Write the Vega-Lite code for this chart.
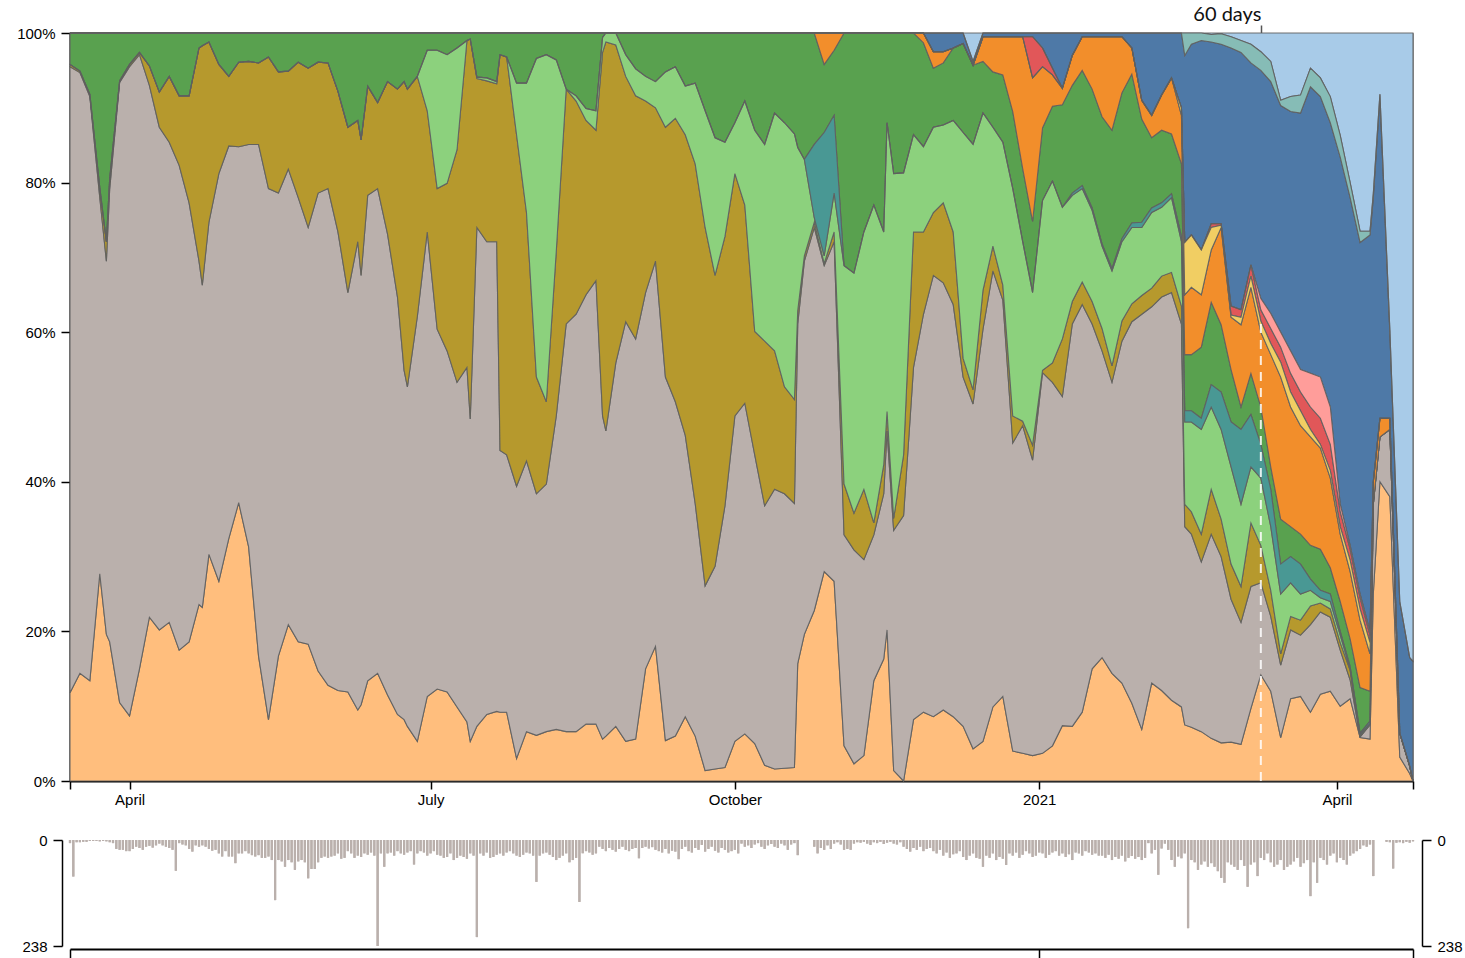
{
"$schema":"https://vega.github.io/schema/vega-lite/v6.json",
"padding":{"left":16,"top":3,"right":0,"bottom":0},
"background":"white",
"bounds":"flush",
"spacing":59,
"config":{"view":{"stroke":null},"axis":{"labelFont":"Liberation Sans","labelFontSize":15,"labelColor":"#000","domainColor":"#000","tickColor":"#000","grid":false}},
"datasets":{
"shares":[
{"t":"2020-03-14","k":"a","v":11.8},{"t":"2020-03-14","k":"b","v":83.7},{"t":"2020-03-14","k":"c","v":0.3},{"t":"2020-03-14","k":"f","v":4.2},
{"t":"2020-03-17","k":"a","v":14.4},{"t":"2020-03-17","k":"b","v":80.3},{"t":"2020-03-17","k":"c","v":0.2},{"t":"2020-03-17","k":"f","v":5.1},
{"t":"2020-03-20","k":"a","v":13.4},{"t":"2020-03-20","k":"b","v":78.1},{"t":"2020-03-20","k":"c","v":0.3},{"t":"2020-03-20","k":"f","v":8.2},
{"t":"2020-03-23","k":"a","v":27.7},{"t":"2020-03-23","k":"b","v":50.3},{"t":"2020-03-23","k":"c","v":1.3},{"t":"2020-03-23","k":"f","v":20.7},
{"t":"2020-03-25","k":"a","v":19.6},{"t":"2020-03-25","k":"b","v":49.9},{"t":"2020-03-25","k":"c","v":2.6},{"t":"2020-03-25","k":"f","v":27.9},
{"t":"2020-03-26","k":"a","v":18.6},{"t":"2020-03-26","k":"b","v":60.6},{"t":"2020-03-26","k":"c","v":1.3},{"t":"2020-03-26","k":"f","v":19.5},
{"t":"2020-03-29","k":"a","v":10.5},{"t":"2020-03-29","k":"b","v":82.9},{"t":"2020-03-29","k":"c","v":0.2},{"t":"2020-03-29","k":"f","v":6.4},
{"t":"2020-04-01","k":"a","v":8.7},{"t":"2020-04-01","k":"b","v":86.8},{"t":"2020-04-01","k":"c","v":0.3},{"t":"2020-04-01","k":"f","v":4.2},
{"t":"2020-04-04","k":"a","v":15},{"t":"2020-04-04","k":"b","v":82.1},{"t":"2020-04-04","k":"c","v":0.3},{"t":"2020-04-04","k":"f","v":2.6},
{"t":"2020-04-07","k":"a","v":21.9},{"t":"2020-04-07","k":"b","v":71.1},{"t":"2020-04-07","k":"c","v":2.6},{"t":"2020-04-07","k":"f","v":4.4},
{"t":"2020-04-10","k":"a","v":20.2},{"t":"2020-04-10","k":"b","v":67.2},{"t":"2020-04-10","k":"c","v":4.7},{"t":"2020-04-10","k":"f","v":7.9},
{"t":"2020-04-13","k":"a","v":21.2},{"t":"2020-04-13","k":"b","v":64.2},{"t":"2020-04-13","k":"c","v":8.8},{"t":"2020-04-13","k":"f","v":5.8},
{"t":"2020-04-16","k":"a","v":17.5},{"t":"2020-04-16","k":"b","v":64.8},{"t":"2020-04-16","k":"c","v":9.3},{"t":"2020-04-16","k":"f","v":8.4},
{"t":"2020-04-19","k":"a","v":18.6},{"t":"2020-04-19","k":"b","v":58.7},{"t":"2020-04-19","k":"c","v":14.3},{"t":"2020-04-19","k":"f","v":8.4},
{"t":"2020-04-22","k":"a","v":23.6},{"t":"2020-04-22","k":"b","v":45.9},{"t":"2020-04-22","k":"c","v":28.5},{"t":"2020-04-22","k":"f","v":2},
{"t":"2020-04-23","k":"a","v":23.2},{"t":"2020-04-23","k":"b","v":43.1},{"t":"2020-04-23","k":"c","v":32},{"t":"2020-04-23","k":"f","v":1.7},
{"t":"2020-04-25","k":"a","v":30.3},{"t":"2020-04-25","k":"b","v":44.4},{"t":"2020-04-25","k":"c","v":24.1},{"t":"2020-04-25","k":"f","v":1.2},
{"t":"2020-04-28","k":"a","v":26.7},{"t":"2020-04-28","k":"b","v":54.5},{"t":"2020-04-28","k":"c","v":14.6},{"t":"2020-04-28","k":"f","v":4.2},
{"t":"2020-05-01","k":"a","v":32.4},{"t":"2020-05-01","k":"b","v":52.5},{"t":"2020-05-01","k":"c","v":9.3},{"t":"2020-05-01","k":"f","v":5.8},
{"t":"2020-05-04","k":"a","v":37.2},{"t":"2020-05-04","k":"b","v":47.6},{"t":"2020-05-04","k":"c","v":11.3},{"t":"2020-05-04","k":"f","v":3.9},
{"t":"2020-05-07","k":"a","v":31.3},{"t":"2020-05-07","k":"b","v":53.8},{"t":"2020-05-07","k":"c","v":11.1},{"t":"2020-05-07","k":"f","v":3.8},
{"t":"2020-05-10","k":"a","v":16.7},{"t":"2020-05-10","k":"b","v":68.4},{"t":"2020-05-10","k":"c","v":10.9},{"t":"2020-05-10","k":"f","v":4},
{"t":"2020-05-13","k":"a","v":8.2},{"t":"2020-05-13","k":"b","v":71},{"t":"2020-05-13","k":"c","v":17.6},{"t":"2020-05-13","k":"f","v":3.2},
{"t":"2020-05-16","k":"a","v":16.7},{"t":"2020-05-16","k":"b","v":61.9},{"t":"2020-05-16","k":"c","v":16.2},{"t":"2020-05-16","k":"f","v":5.2},
{"t":"2020-05-19","k":"a","v":20.9},{"t":"2020-05-19","k":"b","v":60.9},{"t":"2020-05-19","k":"c","v":13.1},{"t":"2020-05-19","k":"f","v":5.1},
{"t":"2020-05-22","k":"a","v":18.6},{"t":"2020-05-22","k":"b","v":59.4},{"t":"2020-05-22","k":"c","v":18.1},{"t":"2020-05-22","k":"f","v":3.9},
{"t":"2020-05-25","k":"a","v":18.3},{"t":"2020-05-25","k":"b","v":55.7},{"t":"2020-05-25","k":"c","v":21.3},{"t":"2020-05-25","k":"f","v":4.7},
{"t":"2020-05-28","k":"a","v":14.7},{"t":"2020-05-28","k":"b","v":63.9},{"t":"2020-05-28","k":"c","v":17.5},{"t":"2020-05-28","k":"f","v":3.9},
{"t":"2020-05-31","k":"a","v":12.8},{"t":"2020-05-31","k":"b","v":66.4},{"t":"2020-05-31","k":"c","v":16.8},{"t":"2020-05-31","k":"f","v":4},
{"t":"2020-06-03","k":"a","v":12.1},{"t":"2020-06-03","k":"b","v":61.3},{"t":"2020-06-03","k":"c","v":18.8},{"t":"2020-06-03","k":"f","v":7.8},
{"t":"2020-06-06","k":"a","v":11.9},{"t":"2020-06-06","k":"b","v":53.4},{"t":"2020-06-06","k":"c","v":22.1},{"t":"2020-06-06","k":"f","v":12.6},
{"t":"2020-06-09","k":"a","v":9.5},{"t":"2020-06-09","k":"b","v":62.6},{"t":"2020-06-09","k":"c","v":16.2},{"t":"2020-06-09","k":"f","v":11.7},
{"t":"2020-06-10","k":"a","v":10.2},{"t":"2020-06-10","k":"b","v":57.4},{"t":"2020-06-10","k":"c","v":18.1},{"t":"2020-06-10","k":"f","v":14.3},
{"t":"2020-06-12","k":"a","v":13.4},{"t":"2020-06-12","k":"b","v":64.9},{"t":"2020-06-12","k":"c","v":14.6},{"t":"2020-06-12","k":"f","v":7.1},
{"t":"2020-06-15","k":"a","v":14.4},{"t":"2020-06-15","k":"b","v":64.8},{"t":"2020-06-15","k":"c","v":11.5},{"t":"2020-06-15","k":"f","v":9.3},
{"t":"2020-06-18","k":"a","v":11.5},{"t":"2020-06-18","k":"b","v":61.6},{"t":"2020-06-18","k":"c","v":20.4},{"t":"2020-06-18","k":"f","v":6.5},
{"t":"2020-06-21","k":"a","v":8.9},{"t":"2020-06-21","k":"b","v":55.8},{"t":"2020-06-21","k":"c","v":27.8},{"t":"2020-06-21","k":"f","v":7.5},
{"t":"2020-06-23","k":"a","v":8.2},{"t":"2020-06-23","k":"b","v":46.7},{"t":"2020-06-23","k":"c","v":38.6},{"t":"2020-06-23","k":"f","v":6.5},
{"t":"2020-06-24","k":"a","v":7.3},{"t":"2020-06-24","k":"b","v":45.4},{"t":"2020-06-24","k":"c","v":39.8},{"t":"2020-06-24","k":"f","v":7.5},
{"t":"2020-06-27","k":"a","v":5.3},{"t":"2020-06-27","k":"b","v":56.8},{"t":"2020-06-27","k":"c","v":32.1},{"t":"2020-06-27","k":"f","v":5.8},
{"t":"2020-06-30","k":"a","v":11.3},{"t":"2020-06-30","k":"b","v":62.1},{"t":"2020-06-30","k":"c","v":16.2},{"t":"2020-06-30","k":"d","v":8.1},{"t":"2020-06-30","k":"f","v":2.3},
{"t":"2020-07-03","k":"a","v":12.3},{"t":"2020-07-03","k":"b","v":48.1},{"t":"2020-07-03","k":"c","v":18.8},{"t":"2020-07-03","k":"d","v":18.5},{"t":"2020-07-03","k":"f","v":2.3},
{"t":"2020-07-06","k":"a","v":11.9},{"t":"2020-07-06","k":"b","v":45.6},{"t":"2020-07-06","k":"c","v":22.4},{"t":"2020-07-06","k":"d","v":17.2},{"t":"2020-07-06","k":"f","v":2.9},
{"t":"2020-07-09","k":"a","v":9.9},{"t":"2020-07-09","k":"b","v":43.4},{"t":"2020-07-09","k":"c","v":31.1},{"t":"2020-07-09","k":"d","v":13.6},{"t":"2020-07-09","k":"f","v":2},
{"t":"2020-07-12","k":"a","v":7.9},{"t":"2020-07-12","k":"b","v":47.4},{"t":"2020-07-12","k":"c","v":43.7},{"t":"2020-07-12","k":"f","v":1},
{"t":"2020-07-13","k":"a","v":5.3},{"t":"2020-07-13","k":"b","v":43.1},{"t":"2020-07-13","k":"c","v":50.8},{"t":"2020-07-13","k":"f","v":0.8},
{"t":"2020-07-15","k":"a","v":7.3},{"t":"2020-07-15","k":"b","v":66.7},{"t":"2020-07-15","k":"c","v":19.9},{"t":"2020-07-15","k":"d","v":0.2},{"t":"2020-07-15","k":"f","v":5.9},
{"t":"2020-07-18","k":"a","v":8.9},{"t":"2020-07-18","k":"b","v":63.2},{"t":"2020-07-18","k":"c","v":21.5},{"t":"2020-07-18","k":"d","v":0.4},{"t":"2020-07-18","k":"f","v":6},
{"t":"2020-07-21","k":"a","v":9.3},{"t":"2020-07-21","k":"b","v":62.8},{"t":"2020-07-21","k":"c","v":21.1},{"t":"2020-07-21","k":"d","v":0.3},{"t":"2020-07-21","k":"f","v":6.5},
{"t":"2020-07-22","k":"a","v":9.2},{"t":"2020-07-22","k":"b","v":35},{"t":"2020-07-22","k":"c","v":52.9},{"t":"2020-07-22","k":"f","v":2.9},
{"t":"2020-07-24","k":"a","v":9.2},{"t":"2020-07-24","k":"b","v":34.4},{"t":"2020-07-24","k":"c","v":53.2},{"t":"2020-07-24","k":"f","v":3.2},
{"t":"2020-07-27","k":"a","v":3},{"t":"2020-07-27","k":"b","v":36.4},{"t":"2020-07-27","k":"c","v":47},{"t":"2020-07-27","k":"d","v":6.9},{"t":"2020-07-27","k":"f","v":6.7},
{"t":"2020-07-30","k":"a","v":6.6},{"t":"2020-07-30","k":"b","v":36.2},{"t":"2020-07-30","k":"c","v":33.2},{"t":"2020-07-30","k":"d","v":17.3},{"t":"2020-07-30","k":"f","v":6.7},
{"t":"2020-08-02","k":"a","v":6.1},{"t":"2020-08-02","k":"b","v":32.3},{"t":"2020-08-02","k":"c","v":15.6},{"t":"2020-08-02","k":"d","v":42.6},{"t":"2020-08-02","k":"f","v":3.4},
{"t":"2020-08-05","k":"a","v":6.6},{"t":"2020-08-05","k":"b","v":33.1},{"t":"2020-08-05","k":"c","v":11},{"t":"2020-08-05","k":"d","v":46.4},{"t":"2020-08-05","k":"f","v":2.9},
{"t":"2020-08-08","k":"a","v":6.9},{"t":"2020-08-08","k":"b","v":41.9},{"t":"2020-08-08","k":"c","v":22},{"t":"2020-08-08","k":"d","v":25.6},{"t":"2020-08-08","k":"f","v":3.6},
{"t":"2020-08-11","k":"a","v":6.6},{"t":"2020-08-11","k":"b","v":54.5},{"t":"2020-08-11","k":"c","v":31.4},{"t":"2020-08-11","k":"f","v":7.5},
{"t":"2020-08-14","k":"a","v":6.6},{"t":"2020-08-14","k":"b","v":55.8},{"t":"2020-08-14","k":"c","v":28.5},{"t":"2020-08-14","k":"d","v":0.7},{"t":"2020-08-14","k":"f","v":8.4},
{"t":"2020-08-17","k":"a","v":7.6},{"t":"2020-08-17","k":"b","v":57.4},{"t":"2020-08-17","k":"c","v":23.3},{"t":"2020-08-17","k":"d","v":1.6},{"t":"2020-08-17","k":"f","v":10.1},
{"t":"2020-08-20","k":"a","v":7.6},{"t":"2020-08-20","k":"b","v":59.3},{"t":"2020-08-20","k":"c","v":20.1},{"t":"2020-08-20","k":"d","v":2.6},{"t":"2020-08-20","k":"f","v":10.4},
{"t":"2020-08-22","k":"a","v":5.6},{"t":"2020-08-22","k":"b","v":43.2},{"t":"2020-08-22","k":"c","v":48.6},{"t":"2020-08-22","k":"d","v":2},{"t":"2020-08-22","k":"f","v":0.6},
{"t":"2020-08-23","k":"a","v":6},{"t":"2020-08-23","k":"b","v":40.8},{"t":"2020-08-23","k":"c","v":52},{"t":"2020-08-23","k":"d","v":1.2},
{"t":"2020-08-26","k":"a","v":7.3},{"t":"2020-08-26","k":"b","v":48.6},{"t":"2020-08-26","k":"c","v":42.5},{"t":"2020-08-26","k":"d","v":1.6},
{"t":"2020-08-29","k":"a","v":5.3},{"t":"2020-08-29","k":"b","v":56.1},{"t":"2020-08-29","k":"c","v":32.8},{"t":"2020-08-29","k":"d","v":2.9},{"t":"2020-08-29","k":"f","v":2.9},
{"t":"2020-09-01","k":"a","v":5.6},{"t":"2020-09-01","k":"b","v":53.5},{"t":"2020-09-01","k":"c","v":32.5},{"t":"2020-09-01","k":"d","v":3.6},{"t":"2020-09-01","k":"f","v":4.8},
{"t":"2020-09-04","k":"a","v":15},{"t":"2020-09-04","k":"b","v":50.3},{"t":"2020-09-04","k":"c","v":25.6},{"t":"2020-09-04","k":"d","v":3.3},{"t":"2020-09-04","k":"f","v":5.8},
{"t":"2020-09-07","k":"a","v":18},{"t":"2020-09-07","k":"b","v":51.5},{"t":"2020-09-07","k":"c","v":20.5},{"t":"2020-09-07","k":"d","v":3.5},{"t":"2020-09-07","k":"f","v":6.5},
{"t":"2020-09-10","k":"a","v":5.4},{"t":"2020-09-10","k":"b","v":48.6},{"t":"2020-09-10","k":"c","v":33.4},{"t":"2020-09-10","k":"d","v":7.4},{"t":"2020-09-10","k":"f","v":5.2},
{"t":"2020-09-13","k":"a","v":6},{"t":"2020-09-13","k":"b","v":44.7},{"t":"2020-09-13","k":"c","v":37.9},{"t":"2020-09-13","k":"d","v":6.9},{"t":"2020-09-13","k":"f","v":4.5},
{"t":"2020-09-16","k":"a","v":8.6},{"t":"2020-09-16","k":"b","v":37.6},{"t":"2020-09-16","k":"c","v":40.2},{"t":"2020-09-16","k":"d","v":6.5},{"t":"2020-09-16","k":"f","v":7.1},
{"t":"2020-09-19","k":"a","v":6},{"t":"2020-09-19","k":"b","v":31.1},{"t":"2020-09-19","k":"c","v":45.4},{"t":"2020-09-19","k":"d","v":10.8},{"t":"2020-09-19","k":"f","v":6.7},
{"t":"2020-09-22","k":"a","v":1.4},{"t":"2020-09-22","k":"b","v":24.7},{"t":"2020-09-22","k":"c","v":47.9},{"t":"2020-09-22","k":"d","v":15.6},{"t":"2020-09-22","k":"f","v":10.4},
{"t":"2020-09-25","k":"a","v":1.6},{"t":"2020-09-25","k":"b","v":27.1},{"t":"2020-09-25","k":"c","v":38.9},{"t":"2020-09-25","k":"d","v":18.4},{"t":"2020-09-25","k":"f","v":14},
{"t":"2020-09-28","k":"a","v":1.8},{"t":"2020-09-28","k":"b","v":35},{"t":"2020-09-28","k":"c","v":36},{"t":"2020-09-28","k":"d","v":12.6},{"t":"2020-09-28","k":"f","v":14.6},
{"t":"2020-10-01","k":"a","v":5.3},{"t":"2020-10-01","k":"b","v":43.5},{"t":"2020-10-01","k":"c","v":32.4},{"t":"2020-10-01","k":"d","v":6.8},{"t":"2020-10-01","k":"f","v":12},
{"t":"2020-10-04","k":"a","v":6.3},{"t":"2020-10-04","k":"b","v":44.2},{"t":"2020-10-04","k":"c","v":26.5},{"t":"2020-10-04","k":"d","v":13.9},{"t":"2020-10-04","k":"f","v":9.1},
{"t":"2020-10-07","k":"a","v":5},{"t":"2020-10-07","k":"b","v":38.6},{"t":"2020-10-07","k":"c","v":16.5},{"t":"2020-10-07","k":"d","v":26.9},{"t":"2020-10-07","k":"f","v":13},
{"t":"2020-10-10","k":"a","v":2.1},{"t":"2020-10-10","k":"b","v":34.7},{"t":"2020-10-10","k":"c","v":22},{"t":"2020-10-10","k":"d","v":26.3},{"t":"2020-10-10","k":"f","v":14.9},
{"t":"2020-10-13","k":"a","v":1.6},{"t":"2020-10-13","k":"b","v":37.4},{"t":"2020-10-13","k":"c","v":18.5},{"t":"2020-10-13","k":"d","v":31.8},{"t":"2020-10-13","k":"f","v":10.7},
{"t":"2020-10-16","k":"a","v":1.7},{"t":"2020-10-16","k":"b","v":36.7},{"t":"2020-10-16","k":"c","v":14.3},{"t":"2020-10-16","k":"d","v":35.3},{"t":"2020-10-16","k":"f","v":12},
{"t":"2020-10-19","k":"a","v":1.8},{"t":"2020-10-19","k":"b","v":35.3},{"t":"2020-10-19","k":"c","v":13.9},{"t":"2020-10-19","k":"d","v":35.5},{"t":"2020-10-19","k":"f","v":13.5},
{"t":"2020-10-20","k":"a","v":15.7},{"t":"2020-10-20","k":"b","v":45.4},{"t":"2020-10-20","k":"c","v":1.8},{"t":"2020-10-20","k":"d","v":21.8},{"t":"2020-10-20","k":"f","v":15.3},
{"t":"2020-10-22","k":"a","v":19.6},{"t":"2020-10-22","k":"b","v":49.9},{"t":"2020-10-22","k":"c","v":0.7},{"t":"2020-10-22","k":"d","v":12.9},{"t":"2020-10-22","k":"f","v":16.9},
{"t":"2020-10-25","k":"a","v":22.8},{"t":"2020-10-25","k":"b","v":51.2},{"t":"2020-10-25","k":"c","v":0.7},{"t":"2020-10-25","k":"d","v":0.6},{"t":"2020-10-25","k":"e","v":9.8},{"t":"2020-10-25","k":"f","v":14.9},
{"t":"2020-10-28","k":"a","v":28},{"t":"2020-10-28","k":"b","v":40.9},{"t":"2020-10-28","k":"c","v":0.3},{"t":"2020-10-28","k":"d","v":1},{"t":"2020-10-28","k":"e","v":16.5},{"t":"2020-10-28","k":"f","v":9.1},{"t":"2020-10-28","k":"g","v":4.2},
{"t":"2020-10-31","k":"a","v":26.7},{"t":"2020-10-31","k":"b","v":45.4},{"t":"2020-10-31","k":"c","v":1.3},{"t":"2020-10-31","k":"d","v":5.2},{"t":"2020-10-31","k":"e","v":10.4},{"t":"2020-10-31","k":"f","v":8.7},{"t":"2020-10-31","k":"g","v":2.3},
{"t":"2020-11-03","k":"a","v":4.7},{"t":"2020-11-03","k":"b","v":28.2},{"t":"2020-11-03","k":"c","v":6.8},{"t":"2020-11-03","k":"d","v":29.2},{"t":"2020-11-03","k":"f","v":31.1},
{"t":"2020-11-06","k":"a","v":2.3},{"t":"2020-11-06","k":"b","v":28.6},{"t":"2020-11-06","k":"c","v":4.9},{"t":"2020-11-06","k":"d","v":32.1},{"t":"2020-11-06","k":"f","v":32.1},
{"t":"2020-11-09","k":"a","v":3.4},{"t":"2020-11-09","k":"b","v":26.2},{"t":"2020-11-09","k":"c","v":9.4},{"t":"2020-11-09","k":"d","v":34.4},{"t":"2020-11-09","k":"f","v":26.6},
{"t":"2020-11-12","k":"a","v":13.4},{"t":"2020-11-12","k":"b","v":19.5},{"t":"2020-11-12","k":"c","v":1.6},{"t":"2020-11-12","k":"d","v":42.5},{"t":"2020-11-12","k":"f","v":23},
{"t":"2020-11-15","k":"a","v":16.3},{"t":"2020-11-15","k":"b","v":22.1},{"t":"2020-11-15","k":"c","v":3.9},{"t":"2020-11-15","k":"d","v":31.1},{"t":"2020-11-15","k":"f","v":26.6},
{"t":"2020-11-16","k":"a","v":20.2},{"t":"2020-11-16","k":"b","v":26.6},{"t":"2020-11-16","k":"c","v":2.6},{"t":"2020-11-16","k":"d","v":38.6},{"t":"2020-11-16","k":"f","v":12},
{"t":"2020-11-18","k":"a","v":1.4},{"t":"2020-11-18","k":"b","v":32.1},{"t":"2020-11-18","k":"c","v":1.6},{"t":"2020-11-18","k":"d","v":46.1},{"t":"2020-11-18","k":"f","v":18.8},
{"t":"2020-11-21","k":"b","v":35.5},{"t":"2020-11-21","k":"c","v":8.1},{"t":"2020-11-21","k":"d","v":37.7},{"t":"2020-11-21","k":"f","v":18.7},
{"t":"2020-11-24","k":"a","v":8.2},{"t":"2020-11-24","k":"b","v":47.1},{"t":"2020-11-24","k":"c","v":18.1},{"t":"2020-11-24","k":"d","v":13},{"t":"2020-11-24","k":"f","v":13.6},
{"t":"2020-11-27","k":"a","v":9.2},{"t":"2020-11-27","k":"b","v":53.2},{"t":"2020-11-27","k":"c","v":11},{"t":"2020-11-27","k":"d","v":11.4},{"t":"2020-11-27","k":"f","v":13.9},{"t":"2020-11-27","k":"g","v":1.3},
{"t":"2020-11-30","k":"a","v":8.6},{"t":"2020-11-30","k":"b","v":59},{"t":"2020-11-30","k":"c","v":8.4},{"t":"2020-11-30","k":"d","v":11.4},{"t":"2020-11-30","k":"f","v":7.9},{"t":"2020-11-30","k":"g","v":2.2},{"t":"2020-11-30","k":"k","v":2.5},
{"t":"2020-12-03","k":"a","v":9.5},{"t":"2020-12-03","k":"b","v":57.1},{"t":"2020-12-03","k":"c","v":10.7},{"t":"2020-12-03","k":"d","v":10.4},{"t":"2020-12-03","k":"f","v":8.3},{"t":"2020-12-03","k":"g","v":1.5},{"t":"2020-12-03","k":"k","v":2.5},
{"t":"2020-12-06","k":"a","v":8.6},{"t":"2020-12-06","k":"b","v":55.1},{"t":"2020-12-06","k":"c","v":9.7},{"t":"2020-12-06","k":"d","v":14.9},{"t":"2020-12-06","k":"f","v":9.7},{"t":"2020-12-06","k":"k","v":2},
{"t":"2020-12-09","k":"a","v":7.3},{"t":"2020-12-09","k":"b","v":46.7},{"t":"2020-12-09","k":"c","v":2.5},{"t":"2020-12-09","k":"d","v":30.2},{"t":"2020-12-09","k":"f","v":11.9},{"t":"2020-12-09","k":"k","v":1.4},
{"t":"2020-12-12","k":"a","v":4.3},{"t":"2020-12-12","k":"b","v":46.1},{"t":"2020-12-12","k":"c","v":1.9},{"t":"2020-12-12","k":"d","v":32.8},{"t":"2020-12-12","k":"f","v":10.6},{"t":"2020-12-12","k":"k","v":0.5},{"t":"2020-12-12","k":"m","v":3.8},
{"t":"2020-12-15","k":"a","v":5.3},{"t":"2020-12-15","k":"b","v":55.1},{"t":"2020-12-15","k":"c","v":5.2},{"t":"2020-12-15","k":"d","v":23.7},{"t":"2020-12-15","k":"f","v":6.9},{"t":"2020-12-15","k":"g","v":3.3},{"t":"2020-12-15","k":"k","v":0.5},
{"t":"2020-12-18","k":"a","v":9.9},{"t":"2020-12-18","k":"b","v":58.3},{"t":"2020-12-18","k":"c","v":3.3},{"t":"2020-12-18","k":"d","v":15.9},{"t":"2020-12-18","k":"f","v":7.4},{"t":"2020-12-18","k":"g","v":4.7},{"t":"2020-12-18","k":"k","v":0.5},
{"t":"2020-12-21","k":"a","v":11.3},{"t":"2020-12-21","k":"b","v":53},{"t":"2020-12-21","k":"c","v":2},{"t":"2020-12-21","k":"d","v":19.1},{"t":"2020-12-21","k":"f","v":9},{"t":"2020-12-21","k":"g","v":5.1},{"t":"2020-12-21","k":"k","v":0.5},
{"t":"2020-12-24","k":"a","v":4},{"t":"2020-12-24","k":"b","v":41.2},{"t":"2020-12-24","k":"c","v":3.6},{"t":"2020-12-24","k":"d","v":30.4},{"t":"2020-12-24","k":"f","v":10.3},{"t":"2020-12-24","k":"g","v":10},{"t":"2020-12-24","k":"k","v":0.5},
{"t":"2020-12-27","k":"a","v":3.7},{"t":"2020-12-27","k":"b","v":43.8},{"t":"2020-12-27","k":"c","v":0.6},{"t":"2020-12-27","k":"d","v":24},{"t":"2020-12-27","k":"f","v":9.8},{"t":"2020-12-27","k":"g","v":17.6},{"t":"2020-12-27","k":"k","v":0.5},
{"t":"2020-12-30","k":"a","v":3.4},{"t":"2020-12-30","k":"b","v":39.5},{"t":"2020-12-30","k":"c","v":2},{"t":"2020-12-30","k":"d","v":20.4},{"t":"2020-12-30","k":"f","v":9.5},{"t":"2020-12-30","k":"g","v":19.2},{"t":"2020-12-30","k":"i","v":5.5},{"t":"2020-12-30","k":"k","v":0.5},
{"t":"2021-01-02","k":"a","v":3.7},{"t":"2021-01-02","k":"b","v":50.9},{"t":"2021-01-02","k":"c","v":0.3},{"t":"2021-01-02","k":"d","v":22.7},{"t":"2021-01-02","k":"f","v":9.7},{"t":"2021-01-02","k":"g","v":8.2},{"t":"2021-01-02","k":"i","v":2.5},{"t":"2021-01-02","k":"k","v":2},
{"t":"2021-01-05","k":"a","v":4.7},{"t":"2021-01-05","k":"b","v":48.6},{"t":"2021-01-05","k":"c","v":2.6},{"t":"2021-01-05","k":"d","v":24.3},{"t":"2021-01-05","k":"f","v":10},{"t":"2021-01-05","k":"g","v":4.2},{"t":"2021-01-05","k":"i","v":0.9},{"t":"2021-01-05","k":"k","v":4.7},
{"t":"2021-01-08","k":"a","v":7.4},{"t":"2021-01-08","k":"b","v":44},{"t":"2021-01-08","k":"c","v":7.7},{"t":"2021-01-08","k":"d","v":17.6},{"t":"2021-01-08","k":"f","v":13.7},{"t":"2021-01-08","k":"g","v":2.2},{"t":"2021-01-08","k":"k","v":7.4},
{"t":"2021-01-11","k":"a","v":7.3},{"t":"2021-01-11","k":"b","v":53.8},{"t":"2021-01-11","k":"c","v":3},{"t":"2021-01-11","k":"d","v":14.2},{"t":"2021-01-11","k":"e","v":0.3},{"t":"2021-01-11","k":"f","v":14.4},{"t":"2021-01-11","k":"g","v":4},{"t":"2021-01-11","k":"k","v":3},
{"t":"2021-01-14","k":"a","v":9.2},{"t":"2021-01-14","k":"b","v":54.5},{"t":"2021-01-14","k":"c","v":3},{"t":"2021-01-14","k":"d","v":12.5},{"t":"2021-01-14","k":"e","v":0.4},{"t":"2021-01-14","k":"f","v":15.4},{"t":"2021-01-14","k":"g","v":4.5},{"t":"2021-01-14","k":"k","v":0.5},
{"t":"2021-01-17","k":"a","v":15},{"t":"2021-01-17","k":"b","v":46.1},{"t":"2021-01-17","k":"c","v":3},{"t":"2021-01-17","k":"d","v":12.2},{"t":"2021-01-17","k":"e","v":0.3},{"t":"2021-01-17","k":"f","v":15.9},{"t":"2021-01-17","k":"g","v":7},{"t":"2021-01-17","k":"k","v":0.5},
{"t":"2021-01-20","k":"a","v":16.5},{"t":"2021-01-20","k":"b","v":41},{"t":"2021-01-20","k":"c","v":3},{"t":"2021-01-20","k":"d","v":11},{"t":"2021-01-20","k":"e","v":0.3},{"t":"2021-01-20","k":"f","v":17},{"t":"2021-01-20","k":"g","v":10.7},{"t":"2021-01-20","k":"k","v":0.5},
{"t":"2021-01-23","k":"a","v":14.4},{"t":"2021-01-23","k":"b","v":38.9},{"t":"2021-01-23","k":"c","v":2.2},{"t":"2021-01-23","k":"d","v":12.7},{"t":"2021-01-23","k":"e","v":0.3},{"t":"2021-01-23","k":"f","v":18.5},{"t":"2021-01-23","k":"g","v":12.5},{"t":"2021-01-23","k":"k","v":0.5},
{"t":"2021-01-26","k":"a","v":13.1},{"t":"2021-01-26","k":"b","v":45.7},{"t":"2021-01-26","k":"c","v":2.7},{"t":"2021-01-26","k":"d","v":10.6},{"t":"2021-01-26","k":"e","v":0.4},{"t":"2021-01-26","k":"f","v":19.5},{"t":"2021-01-26","k":"g","v":7.5},{"t":"2021-01-26","k":"k","v":0.5},
{"t":"2021-01-29","k":"a","v":10.4},{"t":"2021-01-29","k":"b","v":51},{"t":"2021-01-29","k":"c","v":2.4},{"t":"2021-01-29","k":"d","v":10.2},{"t":"2021-01-29","k":"e","v":0.6},{"t":"2021-01-29","k":"f","v":19.9},{"t":"2021-01-29","k":"g","v":3.5},{"t":"2021-01-29","k":"k","v":2},
{"t":"2021-02-01","k":"a","v":6.9},{"t":"2021-02-01","k":"b","v":55.5},{"t":"2021-02-01","k":"c","v":2.5},{"t":"2021-02-01","k":"d","v":9.1},{"t":"2021-02-01","k":"e","v":0.7},{"t":"2021-02-01","k":"f","v":13.8},{"t":"2021-02-01","k":"g","v":2.5},{"t":"2021-02-01","k":"k","v":9},
{"t":"2021-02-04","k":"a","v":13.1},{"t":"2021-02-04","k":"b","v":50.3},{"t":"2021-02-04","k":"c","v":2.5},{"t":"2021-02-04","k":"d","v":10.1},{"t":"2021-02-04","k":"e","v":0.6},{"t":"2021-02-04","k":"f","v":9.4},{"t":"2021-02-04","k":"g","v":3},{"t":"2021-02-04","k":"k","v":11},
{"t":"2021-02-07","k":"a","v":12.1},{"t":"2021-02-07","k":"b","v":52.6},{"t":"2021-02-07","k":"c","v":2.8},{"t":"2021-02-07","k":"d","v":9.2},{"t":"2021-02-07","k":"e","v":0.6},{"t":"2021-02-07","k":"f","v":9.7},{"t":"2021-02-07","k":"g","v":4.7},{"t":"2021-02-07","k":"k","v":8.3},
{"t":"2021-02-10","k":"a","v":10.8},{"t":"2021-02-10","k":"b","v":54.5},{"t":"2021-02-10","k":"c","v":2.7},{"t":"2021-02-10","k":"d","v":10},{"t":"2021-02-10","k":"e","v":0.5},{"t":"2021-02-10","k":"f","v":8},{"t":"2021-02-10","k":"g","v":7.5},{"t":"2021-02-10","k":"k","v":6},
{"t":"2021-02-13","k":"a","v":9.9},{"t":"2021-02-13","k":"b","v":51.2},{"t":"2021-02-13","k":"c","v":2.4},{"t":"2021-02-13","k":"d","v":8.6},{"t":"2021-02-13","k":"e","v":0.7},{"t":"2021-02-13","k":"f","v":9.7},{"t":"2021-02-13","k":"g","v":6.5},{"t":"2021-02-13","k":"h","v":1},{"t":"2021-02-13","k":"k","v":10},
{"t":"2021-02-14","k":"a","v":7.5},{"t":"2021-02-14","k":"b","v":26.5},{"t":"2021-02-14","k":"c","v":3},{"t":"2021-02-14","k":"d","v":11},{"t":"2021-02-14","k":"e","v":1.5},{"t":"2021-02-14","k":"f","v":7.5},{"t":"2021-02-14","k":"g","v":8},{"t":"2021-02-14","k":"h","v":7},{"t":"2021-02-14","k":"k","v":25},{"t":"2021-02-14","k":"l","v":3},
{"t":"2021-02-16","k":"a","v":7.2},{"t":"2021-02-16","k":"b","v":25.8},{"t":"2021-02-16","k":"c","v":3},{"t":"2021-02-16","k":"d","v":12},{"t":"2021-02-16","k":"e","v":1.5},{"t":"2021-02-16","k":"f","v":7.5},{"t":"2021-02-16","k":"g","v":9},{"t":"2021-02-16","k":"h","v":7},{"t":"2021-02-16","k":"k","v":25.5},{"t":"2021-02-16","k":"l","v":1.5},
{"t":"2021-02-19","k":"a","v":6.6},{"t":"2021-02-19","k":"b","v":22.7},{"t":"2021-02-19","k":"c","v":3.7},{"t":"2021-02-19","k":"d","v":14},{"t":"2021-02-19","k":"e","v":1.5},{"t":"2021-02-19","k":"f","v":9.5},{"t":"2021-02-19","k":"g","v":7},{"t":"2021-02-19","k":"h","v":6},{"t":"2021-02-19","k":"k","v":28},{"t":"2021-02-19","k":"l","v":1},
{"t":"2021-02-22","k":"a","v":5.7},{"t":"2021-02-22","k":"b","v":27.3},{"t":"2021-02-22","k":"c","v":6},{"t":"2021-02-22","k":"d","v":11},{"t":"2021-02-22","k":"e","v":3},{"t":"2021-02-22","k":"f","v":11},{"t":"2021-02-22","k":"g","v":7},{"t":"2021-02-22","k":"h","v":3},{"t":"2021-02-22","k":"i","v":0.5},{"t":"2021-02-22","k":"k","v":24.3},{"t":"2021-02-22","k":"l","v":1},{"t":"2021-02-22","k":"m","v":0.2},
{"t":"2021-02-25","k":"a","v":5.1},{"t":"2021-02-25","k":"b","v":24.9},{"t":"2021-02-25","k":"c","v":5},{"t":"2021-02-25","k":"d","v":12},{"t":"2021-02-25","k":"e","v":5},{"t":"2021-02-25","k":"f","v":9},{"t":"2021-02-25","k":"g","v":13},{"t":"2021-02-25","k":"h","v":0.3},{"t":"2021-02-25","k":"i","v":0.2},{"t":"2021-02-25","k":"k","v":24},{"t":"2021-02-25","k":"l","v":1.4},{"t":"2021-02-25","k":"m","v":0.1},
{"t":"2021-02-28","k":"a","v":5.2},{"t":"2021-02-28","k":"b","v":19.1},{"t":"2021-02-28","k":"c","v":4.7},{"t":"2021-02-28","k":"d","v":13},{"t":"2021-02-28","k":"e","v":6},{"t":"2021-02-28","k":"f","v":7},{"t":"2021-02-28","k":"g","v":7},{"t":"2021-02-28","k":"h","v":0.3},{"t":"2021-02-28","k":"i","v":1.2},{"t":"2021-02-28","k":"k","v":34.5},{"t":"2021-02-28","k":"l","v":1.5},{"t":"2021-02-28","k":"m","v":0.5},
{"t":"2021-03-03","k":"a","v":4.9},{"t":"2021-03-03","k":"b","v":16.3},{"t":"2021-03-03","k":"c","v":4.8},{"t":"2021-03-03","k":"d","v":11},{"t":"2021-03-03","k":"e","v":10},{"t":"2021-03-03","k":"f","v":3},{"t":"2021-03-03","k":"g","v":11},{"t":"2021-03-03","k":"h","v":1},{"t":"2021-03-03","k":"i","v":1},{"t":"2021-03-03","k":"k","v":34.4},{"t":"2021-03-03","k":"l","v":1.6},{"t":"2021-03-03","k":"m","v":1},
{"t":"2021-03-06","k":"a","v":9.7},{"t":"2021-03-06","k":"b","v":16.3},{"t":"2021-03-06","k":"c","v":8.5},{"t":"2021-03-06","k":"d","v":7.5},{"t":"2021-03-06","k":"e","v":7},{"t":"2021-03-06","k":"f","v":5.5},{"t":"2021-03-06","k":"g","v":11.5},{"t":"2021-03-06","k":"h","v":1.5},{"t":"2021-03-06","k":"i","v":1.5},{"t":"2021-03-06","k":"k","v":27},{"t":"2021-03-06","k":"l","v":2.5},{"t":"2021-03-06","k":"m","v":1.5},
{"t":"2021-03-09","k":"a","v":14.2},{"t":"2021-03-09","k":"b","v":12.3},{"t":"2021-03-09","k":"c","v":5},{"t":"2021-03-09","k":"d","v":9},{"t":"2021-03-09","k":"e","v":4.5},{"t":"2021-03-09","k":"f","v":5},{"t":"2021-03-09","k":"g","v":10},{"t":"2021-03-09","k":"h","v":1.5},{"t":"2021-03-09","k":"i","v":1.5},{"t":"2021-03-09","k":"j","v":1.5},{"t":"2021-03-09","k":"k","v":30.5},{"t":"2021-03-09","k":"l","v":2.5},{"t":"2021-03-09","k":"m","v":2.5},
{"t":"2021-03-12","k":"a","v":12},{"t":"2021-03-12","k":"b","v":10},{"t":"2021-03-12","k":"c","v":3.5},{"t":"2021-03-12","k":"d","v":8.5},{"t":"2021-03-12","k":"e","v":5},{"t":"2021-03-12","k":"f","v":3},{"t":"2021-03-12","k":"g","v":15},{"t":"2021-03-12","k":"h","v":1.5},{"t":"2021-03-12","k":"i","v":2},{"t":"2021-03-12","k":"j","v":2},{"t":"2021-03-12","k":"k","v":31},{"t":"2021-03-12","k":"l","v":2.7},{"t":"2021-03-12","k":"m","v":3.8},
{"t":"2021-03-15","k":"a","v":5.8},{"t":"2021-03-15","k":"b","v":9.7},{"t":"2021-03-15","k":"c","v":1.5},{"t":"2021-03-15","k":"d","v":8},{"t":"2021-03-15","k":"e","v":4},{"t":"2021-03-15","k":"f","v":6},{"t":"2021-03-15","k":"g","v":19},{"t":"2021-03-15","k":"h","v":2},{"t":"2021-03-15","k":"i","v":2},{"t":"2021-03-15","k":"j","v":2},{"t":"2021-03-15","k":"k","v":30.3},{"t":"2021-03-15","k":"l","v":0.7},{"t":"2021-03-15","k":"m","v":9},
{"t":"2021-03-18","k":"a","v":11},{"t":"2021-03-18","k":"b","v":9.2},{"t":"2021-03-18","k":"c","v":1.8},{"t":"2021-03-18","k":"d","v":4.5},{"t":"2021-03-18","k":"e","v":3.5},{"t":"2021-03-18","k":"f","v":4},{"t":"2021-03-18","k":"g","v":16},{"t":"2021-03-18","k":"h","v":2},{"t":"2021-03-18","k":"i","v":2.5},{"t":"2021-03-18","k":"j","v":3},{"t":"2021-03-18","k":"k","v":32},{"t":"2021-03-18","k":"l","v":2},{"t":"2021-03-18","k":"m","v":8.5},
{"t":"2021-03-21","k":"a","v":11.3},{"t":"2021-03-21","k":"b","v":8.2},{"t":"2021-03-21","k":"c","v":2},{"t":"2021-03-21","k":"d","v":3.5},{"t":"2021-03-21","k":"e","v":4},{"t":"2021-03-21","k":"f","v":4},{"t":"2021-03-21","k":"g","v":14.5},{"t":"2021-03-21","k":"h","v":2},{"t":"2021-03-21","k":"i","v":2.5},{"t":"2021-03-21","k":"j","v":3},{"t":"2021-03-21","k":"k","v":34.3},{"t":"2021-03-21","k":"l","v":2.4},{"t":"2021-03-21","k":"m","v":8.3},
{"t":"2021-03-24","k":"a","v":9.2},{"t":"2021-03-24","k":"b","v":11.7},{"t":"2021-03-24","k":"c","v":2.5},{"t":"2021-03-24","k":"d","v":2.1},{"t":"2021-03-24","k":"e","v":1.5},{"t":"2021-03-24","k":"f","v":4.5},{"t":"2021-03-24","k":"g","v":14.5},{"t":"2021-03-24","k":"h","v":1},{"t":"2021-03-24","k":"i","v":3},{"t":"2021-03-24","k":"j","v":4.5},{"t":"2021-03-24","k":"k","v":38.3},{"t":"2021-03-24","k":"l","v":2.5},{"t":"2021-03-24","k":"m","v":4.7},
{"t":"2021-03-27","k":"a","v":11.6},{"t":"2021-03-27","k":"b","v":11},{"t":"2021-03-27","k":"c","v":1.2},{"t":"2021-03-27","k":"d","v":0.7},{"t":"2021-03-27","k":"e","v":1},{"t":"2021-03-27","k":"f","v":5.5},{"t":"2021-03-27","k":"g","v":13.5},{"t":"2021-03-27","k":"h","v":0.5},{"t":"2021-03-27","k":"i","v":3.5},{"t":"2021-03-27","k":"j","v":5.5},{"t":"2021-03-27","k":"k","v":37.5},{"t":"2021-03-27","k":"l","v":2.5},{"t":"2021-03-27","k":"m","v":6},
{"t":"2021-03-30","k":"a","v":12},{"t":"2021-03-30","k":"b","v":9.9},{"t":"2021-03-30","k":"c","v":1.1},{"t":"2021-03-30","k":"d","v":1},{"t":"2021-03-30","k":"e","v":1},{"t":"2021-03-30","k":"f","v":3.5},{"t":"2021-03-30","k":"g","v":12},{"t":"2021-03-30","k":"h","v":1},{"t":"2021-03-30","k":"i","v":3.5},{"t":"2021-03-30","k":"j","v":5},{"t":"2021-03-30","k":"k","v":38},{"t":"2021-03-30","k":"l","v":3.5},{"t":"2021-03-30","k":"m","v":8.5},
{"t":"2021-04-02","k":"a","v":10},{"t":"2021-04-02","k":"b","v":7.5},{"t":"2021-04-02","k":"c","v":1},{"t":"2021-04-02","k":"d","v":1},{"t":"2021-04-02","k":"e","v":0.5},{"t":"2021-04-02","k":"f","v":4},{"t":"2021-04-02","k":"g","v":9},{"t":"2021-04-02","k":"h","v":1},{"t":"2021-04-02","k":"i","v":2},{"t":"2021-04-02","k":"j","v":1},{"t":"2021-04-02","k":"k","v":46.4},{"t":"2021-04-02","k":"l","v":2.9},{"t":"2021-04-02","k":"m","v":13.7},
{"t":"2021-04-05","k":"a","v":11},{"t":"2021-04-05","k":"b","v":2.5},{"t":"2021-04-05","k":"c","v":1.3},{"t":"2021-04-05","k":"d","v":0.2},{"t":"2021-04-05","k":"e","v":0.3},{"t":"2021-04-05","k":"f","v":3.7},{"t":"2021-04-05","k":"g","v":9},{"t":"2021-04-05","k":"h","v":1.5},{"t":"2021-04-05","k":"i","v":1.5},{"t":"2021-04-05","k":"j","v":0.5},{"t":"2021-04-05","k":"k","v":46.5},{"t":"2021-04-05","k":"l","v":2},{"t":"2021-04-05","k":"m","v":20},
{"t":"2021-04-08","k":"a","v":5.8},{"t":"2021-04-08","k":"b","v":0.1},{"t":"2021-04-08","k":"c","v":0.1},{"t":"2021-04-08","k":"d","v":0.2},{"t":"2021-04-08","k":"e","v":0.2},{"t":"2021-04-08","k":"f","v":6.1},{"t":"2021-04-08","k":"g","v":9},{"t":"2021-04-08","k":"h","v":1.5},{"t":"2021-04-08","k":"i","v":1.5},{"t":"2021-04-08","k":"j","v":0.5},{"t":"2021-04-08","k":"k","v":47},{"t":"2021-04-08","k":"l","v":1.5},{"t":"2021-04-08","k":"m","v":26.5},
{"t":"2021-04-11","k":"a","v":5.6},{"t":"2021-04-11","k":"b","v":1.9},{"t":"2021-04-11","k":"d","v":0.2},{"t":"2021-04-11","k":"e","v":0.3},{"t":"2021-04-11","k":"f","v":4},{"t":"2021-04-11","k":"g","v":5},{"t":"2021-04-11","k":"h","v":1.5},{"t":"2021-04-11","k":"i","v":1},{"t":"2021-04-11","k":"j","v":0.5},{"t":"2021-04-11","k":"k","v":53},{"t":"2021-04-11","k":"l","v":0.5},{"t":"2021-04-11","k":"m","v":26.5},
{"t":"2021-04-12","k":"a","v":25},{"t":"2021-04-12","k":"b","v":12},{"t":"2021-04-12","k":"g","v":3},{"t":"2021-04-12","k":"k","v":38},{"t":"2021-04-12","k":"l","v":0.5},{"t":"2021-04-12","k":"m","v":21.5},
{"t":"2021-04-14","k":"a","v":40},{"t":"2021-04-14","k":"b","v":6},{"t":"2021-04-14","k":"g","v":2.5},{"t":"2021-04-14","k":"k","v":43},{"t":"2021-04-14","k":"l","v":0.3},{"t":"2021-04-14","k":"m","v":8.2},
{"t":"2021-04-17","k":"a","v":38},{"t":"2021-04-17","k":"b","v":9},{"t":"2021-04-17","k":"g","v":1.5},{"t":"2021-04-17","k":"k","v":11.5},{"t":"2021-04-17","k":"l","v":0.3},{"t":"2021-04-17","k":"m","v":39.7},
{"t":"2021-04-20","k":"a","v":3.2},{"t":"2021-04-20","k":"b","v":3.2},{"t":"2021-04-20","k":"k","v":17.6},{"t":"2021-04-20","k":"m","v":76},
{"t":"2021-04-23","k":"a","v":1},{"t":"2021-04-23","k":"b","v":1},{"t":"2021-04-23","k":"k","v":14.5},{"t":"2021-04-23","k":"m","v":83.5},
{"t":"2021-04-24","k":"k","v":16},{"t":"2021-04-24","k":"m","v":84}
],
"counts":[
{"t":"2020-03-14","n":7},{"t":"2020-03-15","n":82},{"t":"2020-03-16","n":5},{"t":"2020-03-17","n":5},{"t":"2020-03-18","n":4},{"t":"2020-03-19","n":4},{"t":"2020-03-20","n":2},{"t":"2020-03-21","n":2},{"t":"2020-03-22","n":2},{"t":"2020-03-23","n":3},{"t":"2020-03-24","n":2},{"t":"2020-03-25","n":3},{"t":"2020-03-26","n":5},{"t":"2020-03-27","n":7},{"t":"2020-03-28","n":20},{"t":"2020-03-29","n":22},{"t":"2020-03-30","n":22},{"t":"2020-03-31","n":25},
{"t":"2020-04-01","n":25},{"t":"2020-04-02","n":20},{"t":"2020-04-03","n":15},{"t":"2020-04-04","n":18},{"t":"2020-04-05","n":22},{"t":"2020-04-06","n":15},{"t":"2020-04-07","n":13},{"t":"2020-04-08","n":17},{"t":"2020-04-09","n":12},{"t":"2020-04-10","n":8},{"t":"2020-04-11","n":12},{"t":"2020-04-12","n":15},{"t":"2020-04-13","n":18},{"t":"2020-04-14","n":22},{"t":"2020-04-15","n":69},{"t":"2020-04-16","n":7},{"t":"2020-04-17","n":10},{"t":"2020-04-18","n":12},{"t":"2020-04-19","n":20},{"t":"2020-04-20","n":26},{"t":"2020-04-21","n":12},{"t":"2020-04-22","n":15},{"t":"2020-04-23","n":12},{"t":"2020-04-24","n":15},{"t":"2020-04-25","n":20},{"t":"2020-04-26","n":24},{"t":"2020-04-27","n":22},{"t":"2020-04-28","n":30},{"t":"2020-04-29","n":37},{"t":"2020-04-30","n":25},
{"t":"2020-05-01","n":37},{"t":"2020-05-02","n":37},{"t":"2020-05-03","n":52},{"t":"2020-05-04","n":30},{"t":"2020-05-05","n":30},{"t":"2020-05-06","n":25},{"t":"2020-05-07","n":30},{"t":"2020-05-08","n":34},{"t":"2020-05-09","n":37},{"t":"2020-05-10","n":34},{"t":"2020-05-11","n":40},{"t":"2020-05-12","n":40},{"t":"2020-05-13","n":37},{"t":"2020-05-14","n":45},{"t":"2020-05-15","n":135},{"t":"2020-05-16","n":45},{"t":"2020-05-17","n":48},{"t":"2020-05-18","n":60},{"t":"2020-05-19","n":45},{"t":"2020-05-20","n":50},{"t":"2020-05-21","n":67},{"t":"2020-05-22","n":48},{"t":"2020-05-23","n":45},{"t":"2020-05-24","n":50},{"t":"2020-05-25","n":86},{"t":"2020-05-26","n":65},{"t":"2020-05-27","n":65},{"t":"2020-05-28","n":50},{"t":"2020-05-29","n":40},{"t":"2020-05-30","n":37},{"t":"2020-05-31","n":40},
{"t":"2020-06-01","n":37},{"t":"2020-06-02","n":35},{"t":"2020-06-03","n":30},{"t":"2020-06-04","n":42},{"t":"2020-06-05","n":40},{"t":"2020-06-06","n":25},{"t":"2020-06-07","n":30},{"t":"2020-06-08","n":40},{"t":"2020-06-09","n":35},{"t":"2020-06-10","n":38},{"t":"2020-06-11","n":30},{"t":"2020-06-12","n":33},{"t":"2020-06-13","n":28},{"t":"2020-06-14","n":35},{"t":"2020-06-15","n":238},{"t":"2020-06-16","n":30},{"t":"2020-06-17","n":60},{"t":"2020-06-18","n":30},{"t":"2020-06-19","n":28},{"t":"2020-06-20","n":35},{"t":"2020-06-21","n":25},{"t":"2020-06-22","n":30},{"t":"2020-06-23","n":33},{"t":"2020-06-24","n":28},{"t":"2020-06-25","n":25},{"t":"2020-06-26","n":55},{"t":"2020-06-27","n":30},{"t":"2020-06-28","n":25},{"t":"2020-06-29","n":28},{"t":"2020-06-30","n":35},
{"t":"2020-07-01","n":30},{"t":"2020-07-02","n":25},{"t":"2020-07-03","n":33},{"t":"2020-07-04","n":35},{"t":"2020-07-05","n":40},{"t":"2020-07-06","n":38},{"t":"2020-07-07","n":30},{"t":"2020-07-08","n":45},{"t":"2020-07-09","n":40},{"t":"2020-07-10","n":35},{"t":"2020-07-11","n":38},{"t":"2020-07-12","n":42},{"t":"2020-07-13","n":30},{"t":"2020-07-14","n":35},{"t":"2020-07-15","n":218},{"t":"2020-07-16","n":30},{"t":"2020-07-17","n":35},{"t":"2020-07-18","n":28},{"t":"2020-07-19","n":40},{"t":"2020-07-20","n":38},{"t":"2020-07-21","n":33},{"t":"2020-07-22","n":30},{"t":"2020-07-23","n":35},{"t":"2020-07-24","n":28},{"t":"2020-07-25","n":25},{"t":"2020-07-26","n":30},{"t":"2020-07-27","n":35},{"t":"2020-07-28","n":38},{"t":"2020-07-29","n":33},{"t":"2020-07-30","n":28},{"t":"2020-07-31","n":30},
{"t":"2020-08-01","n":35},{"t":"2020-08-02","n":94},{"t":"2020-08-03","n":35},{"t":"2020-08-04","n":30},{"t":"2020-08-05","n":28},{"t":"2020-08-06","n":33},{"t":"2020-08-07","n":38},{"t":"2020-08-08","n":45},{"t":"2020-08-09","n":40},{"t":"2020-08-10","n":35},{"t":"2020-08-11","n":30},{"t":"2020-08-12","n":50},{"t":"2020-08-13","n":45},{"t":"2020-08-14","n":40},{"t":"2020-08-15","n":139},{"t":"2020-08-16","n":30},{"t":"2020-08-17","n":25},{"t":"2020-08-18","n":28},{"t":"2020-08-19","n":33},{"t":"2020-08-20","n":30},{"t":"2020-08-21","n":15},{"t":"2020-08-22","n":20},{"t":"2020-08-23","n":25},{"t":"2020-08-24","n":18},{"t":"2020-08-25","n":22},{"t":"2020-08-26","n":26},{"t":"2020-08-27","n":20},{"t":"2020-08-28","n":15},{"t":"2020-08-29","n":22},{"t":"2020-08-30","n":25},{"t":"2020-08-31","n":20},
{"t":"2020-09-01","n":18},{"t":"2020-09-02","n":41},{"t":"2020-09-03","n":18},{"t":"2020-09-04","n":15},{"t":"2020-09-05","n":19},{"t":"2020-09-06","n":16},{"t":"2020-09-07","n":22},{"t":"2020-09-08","n":25},{"t":"2020-09-09","n":28},{"t":"2020-09-10","n":20},{"t":"2020-09-11","n":30},{"t":"2020-09-12","n":24},{"t":"2020-09-13","n":26},{"t":"2020-09-14","n":43},{"t":"2020-09-15","n":20},{"t":"2020-09-16","n":15},{"t":"2020-09-17","n":25},{"t":"2020-09-18","n":28},{"t":"2020-09-19","n":18},{"t":"2020-09-20","n":22},{"t":"2020-09-21","n":11},{"t":"2020-09-22","n":26},{"t":"2020-09-23","n":20},{"t":"2020-09-24","n":15},{"t":"2020-09-25","n":24},{"t":"2020-09-26","n":28},{"t":"2020-09-27","n":18},{"t":"2020-09-28","n":22},{"t":"2020-09-29","n":28},{"t":"2020-09-30","n":25},
{"t":"2020-10-01","n":22},{"t":"2020-10-02","n":30},{"t":"2020-10-03","n":8},{"t":"2020-10-04","n":15},{"t":"2020-10-05","n":12},{"t":"2020-10-06","n":18},{"t":"2020-10-07","n":10},{"t":"2020-10-08","n":7},{"t":"2020-10-09","n":15},{"t":"2020-10-10","n":20},{"t":"2020-10-11","n":12},{"t":"2020-10-12","n":9},{"t":"2020-10-13","n":15},{"t":"2020-10-14","n":18},{"t":"2020-10-15","n":8},{"t":"2020-10-16","n":12},{"t":"2020-10-17","n":22},{"t":"2020-10-18","n":10},{"t":"2020-10-19","n":7},{"t":"2020-10-20","n":34},{"t":"2020-10-25","n":15},{"t":"2020-10-26","n":30},{"t":"2020-10-27","n":18},{"t":"2020-10-28","n":22},{"t":"2020-10-29","n":12},{"t":"2020-10-30","n":20},{"t":"2020-10-31","n":8},
{"t":"2020-11-01","n":5},{"t":"2020-11-02","n":10},{"t":"2020-11-03","n":22},{"t":"2020-11-04","n":20},{"t":"2020-11-05","n":22},{"t":"2020-11-06","n":8},{"t":"2020-11-07","n":5},{"t":"2020-11-08","n":6},{"t":"2020-11-09","n":4},{"t":"2020-11-10","n":8},{"t":"2020-11-11","n":11},{"t":"2020-11-12","n":5},{"t":"2020-11-13","n":7},{"t":"2020-11-14","n":4},{"t":"2020-11-15","n":9},{"t":"2020-11-16","n":6},{"t":"2020-11-17","n":4},{"t":"2020-11-18","n":8},{"t":"2020-11-19","n":10},{"t":"2020-11-20","n":5},{"t":"2020-11-21","n":15},{"t":"2020-11-22","n":20},{"t":"2020-11-23","n":26},{"t":"2020-11-24","n":18},{"t":"2020-11-25","n":22},{"t":"2020-11-26","n":15},{"t":"2020-11-27","n":25},{"t":"2020-11-28","n":20},{"t":"2020-11-29","n":18},{"t":"2020-11-30","n":25},
{"t":"2020-12-01","n":30},{"t":"2020-12-02","n":22},{"t":"2020-12-03","n":35},{"t":"2020-12-04","n":28},{"t":"2020-12-05","n":40},{"t":"2020-12-06","n":32},{"t":"2020-12-07","n":30},{"t":"2020-12-08","n":25},{"t":"2020-12-09","n":38},{"t":"2020-12-10","n":45},{"t":"2020-12-11","n":35},{"t":"2020-12-12","n":30},{"t":"2020-12-13","n":40},{"t":"2020-12-14","n":42},{"t":"2020-12-15","n":60},{"t":"2020-12-16","n":35},{"t":"2020-12-17","n":40},{"t":"2020-12-18","n":30},{"t":"2020-12-19","n":45},{"t":"2020-12-20","n":38},{"t":"2020-12-21","n":42},{"t":"2020-12-22","n":56},{"t":"2020-12-23","n":30},{"t":"2020-12-24","n":35},{"t":"2020-12-25","n":28},{"t":"2020-12-26","n":40},{"t":"2020-12-27","n":33},{"t":"2020-12-28","n":25},{"t":"2020-12-29","n":30},{"t":"2020-12-30","n":38},{"t":"2020-12-31","n":35},
{"t":"2021-01-01","n":28},{"t":"2021-01-02","n":30},{"t":"2021-01-03","n":40},{"t":"2021-01-04","n":33},{"t":"2021-01-05","n":28},{"t":"2021-01-06","n":25},{"t":"2021-01-07","n":35},{"t":"2021-01-08","n":30},{"t":"2021-01-09","n":38},{"t":"2021-01-10","n":32},{"t":"2021-01-11","n":45},{"t":"2021-01-12","n":28},{"t":"2021-01-13","n":30},{"t":"2021-01-14","n":35},{"t":"2021-01-15","n":25},{"t":"2021-01-16","n":28},{"t":"2021-01-17","n":33},{"t":"2021-01-18","n":30},{"t":"2021-01-19","n":35},{"t":"2021-01-20","n":35},{"t":"2021-01-21","n":40},{"t":"2021-01-22","n":33},{"t":"2021-01-23","n":45},{"t":"2021-01-24","n":38},{"t":"2021-01-25","n":42},{"t":"2021-01-26","n":35},{"t":"2021-01-27","n":48},{"t":"2021-01-28","n":40},{"t":"2021-01-29","n":36},{"t":"2021-01-30","n":42},{"t":"2021-01-31","n":38},
{"t":"2021-02-01","n":45},{"t":"2021-02-02","n":40},{"t":"2021-02-03","n":7},{"t":"2021-02-04","n":30},{"t":"2021-02-05","n":22},{"t":"2021-02-06","n":78},{"t":"2021-02-07","n":19},{"t":"2021-02-08","n":8},{"t":"2021-02-09","n":22},{"t":"2021-02-10","n":45},{"t":"2021-02-11","n":60},{"t":"2021-02-12","n":37},{"t":"2021-02-13","n":41},{"t":"2021-02-14","n":30},{"t":"2021-02-15","n":198},{"t":"2021-02-16","n":45},{"t":"2021-02-17","n":50},{"t":"2021-02-18","n":67},{"t":"2021-02-19","n":55},{"t":"2021-02-20","n":48},{"t":"2021-02-21","n":60},{"t":"2021-02-22","n":52},{"t":"2021-02-23","n":60},{"t":"2021-02-24","n":70},{"t":"2021-02-25","n":85},{"t":"2021-02-26","n":96},{"t":"2021-02-27","n":50},{"t":"2021-02-28","n":55},
{"t":"2021-03-01","n":60},{"t":"2021-03-02","n":67},{"t":"2021-03-03","n":45},{"t":"2021-03-04","n":58},{"t":"2021-03-05","n":105},{"t":"2021-03-06","n":55},{"t":"2021-03-07","n":50},{"t":"2021-03-08","n":81},{"t":"2021-03-09","n":40},{"t":"2021-03-10","n":45},{"t":"2021-03-11","n":30},{"t":"2021-03-12","n":50},{"t":"2021-03-13","n":60},{"t":"2021-03-14","n":55},{"t":"2021-03-15","n":45},{"t":"2021-03-16","n":67},{"t":"2021-03-17","n":60},{"t":"2021-03-18","n":55},{"t":"2021-03-19","n":48},{"t":"2021-03-20","n":40},{"t":"2021-03-21","n":60},{"t":"2021-03-22","n":52},{"t":"2021-03-23","n":45},{"t":"2021-03-24","n":126},{"t":"2021-03-25","n":50},{"t":"2021-03-26","n":96},{"t":"2021-03-27","n":40},{"t":"2021-03-28","n":45},{"t":"2021-03-29","n":55},{"t":"2021-03-30","n":35},{"t":"2021-03-31","n":30},
{"t":"2021-04-01","n":50},{"t":"2021-04-02","n":40},{"t":"2021-04-03","n":45},{"t":"2021-04-04","n":55},{"t":"2021-04-05","n":35},{"t":"2021-04-06","n":30},{"t":"2021-04-07","n":25},{"t":"2021-04-08","n":20},{"t":"2021-04-09","n":12},{"t":"2021-04-10","n":15},{"t":"2021-04-11","n":10},{"t":"2021-04-12","n":81},{"t":"2021-04-16","n":4},{"t":"2021-04-17","n":5},{"t":"2021-04-18","n":64},{"t":"2021-04-19","n":6},{"t":"2021-04-20","n":5},{"t":"2021-04-21","n":7},{"t":"2021-04-22","n":4},{"t":"2021-04-23","n":6},{"t":"2021-04-24","n":3}
]
},
"vconcat":[
{
"width":1343,"height":748,
"view":{"stroke":"#9a9a9a","strokeWidth":1},
"layer":[
{"data":{"name":"shares"},
"mark":{"type":"area","interpolate":"linear","stroke":"#5f5f5f","strokeWidth":1.1,"strokeOpacity":0.9},
"encoding":{
"x":{"field":"t","type":"temporal","title":null,
"scale":{"type":"utc","domain":[{"year":2020,"month":3,"date":14,"utc":true},{"year":2021,"month":4,"date":24,"utc":true}]},
"axis":{"orient":"bottom","values":[{"year":2020,"month":3,"date":14,"utc":true},{"year":2020,"month":4,"date":1,"utc":true},{"year":2020,"month":7,"date":1,"utc":true},{"year":2020,"month":10,"date":1,"utc":true},{"year":2021,"month":1,"date":1,"utc":true},{"year":2021,"month":4,"date":1,"utc":true},{"year":2021,"month":4,"date":24,"utc":true}],
"labelExpr":"utcdate(datum.value) != 1 ? '' : (utcmonth(datum.value) == 0 ? utcFormat(datum.value, '%Y') : utcFormat(datum.value, '%B'))",
"tickSize":8,"tickWidth":1.5,"domainWidth":2,"labelPadding":3,"labelFlush":false,"labelOverlap":false}},
"y":{"field":"v","type":"quantitative","stack":"normalize","title":null,
"axis":{"values":[0,0.2,0.4,0.6,0.8,1],"format":"%","tickSize":9,"tickWidth":1.5,"domainWidth":2,"labelPadding":6}},
"color":{"field":"k","type":"nominal","legend":null,
"scale":{"domain":["a","b","c","d","e","f","g","h","i","j","k","l","m"],
"range":["#ffbe7d","#bab0ac","#b6992d","#8cd17d","#499894","#59a14f","#f28e2b","#f1ce63","#e15759","#ff9d9a","#4e79a7","#86bcb6","#a8cbe8"]}},
"order":{"field":"k","sort":"ascending"}
}},
{"data":{"values":[{"t":"2021-03-09"}]},
"mark":{"type":"rule","color":"white","strokeDash":[9,7],"strokeWidth":2,"opacity":0.85},
"encoding":{
"x":{"field":"t","type":"temporal","title":null,
"scale":{"type":"utc","domain":[{"year":2020,"month":3,"date":14,"utc":true},{"year":2021,"month":4,"date":24,"utc":true}]},
"axis":{"orient":"top","values":[{"year":2021,"month":3,"date":9,"utc":true}],"labelExpr":"'60 days'","domain":false,"tickSize":8,"tickWidth":1.5,"tickColor":"#555","labelFont":"Lato","labelFontSize":20,"labelColor":"#111","labelAlign":"right","labelDx":3,"labelPadding":1}},
"y":{"datum":0,"type":"quantitative","title":null,
"axis":{"values":[0,0.2,0.4,0.6,0.8,1],"format":"%","tickSize":9,"tickWidth":1.5,"domainWidth":2,"labelPadding":6}},
"y2":{"datum":0.62}
}}
],
"resolve":{"axis":{"x":"independent"}}
},
{
"width":1343,"height":106,
"data":{"name":"counts"},
"layer":[
{"mark":{"type":"bar","color":"#bab0ac","width":2.2},
"encoding":{
"x":{"field":"t","type":"temporal","title":null,
"scale":{"type":"utc","padding":0,"domain":[{"year":2020,"month":3,"date":14,"utc":true},{"year":2021,"month":4,"date":24,"utc":true}]},
"axis":{"orient":"bottom","offset":3,"values":[{"year":2020,"month":3,"date":14,"utc":true},{"year":2021,"month":1,"date":1,"utc":true},{"year":2021,"month":4,"date":24,"utc":true}],"labels":false,"tickSize":12,"tickWidth":1.5,"domainWidth":2}},
"y":{"field":"n","type":"quantitative","title":null,"scale":{"domain":[0,238],"reverse":true,"nice":false},
"axis":{"orient":"left","offset":8,"values":[0,238],"tickSize":9,"tickWidth":1.5,"domainWidth":1.5,"labelPadding":6}}
}},
{"mark":{"type":"bar","color":"#bab0ac","width":2.2},
"encoding":{
"x":{"field":"t","type":"temporal","title":null,
"scale":{"type":"utc","padding":0,"domain":[{"year":2020,"month":3,"date":14,"utc":true},{"year":2021,"month":4,"date":24,"utc":true}]},
"axis":{"orient":"bottom","offset":3,"values":[{"year":2020,"month":3,"date":14,"utc":true},{"year":2021,"month":1,"date":1,"utc":true},{"year":2021,"month":4,"date":24,"utc":true}],"labels":false,"tickSize":12,"tickWidth":1.5,"domainWidth":2}},
"y":{"field":"n","type":"quantitative","title":null,"scale":{"domain":[0,238],"reverse":true,"nice":false},
"axis":{"orient":"right","offset":9,"values":[0,238],"tickSize":9,"tickWidth":1.5,"domainWidth":1.5,"labelPadding":6}}
}}
],
"resolve":{"axis":{"y":"independent"}}
}
]
}
